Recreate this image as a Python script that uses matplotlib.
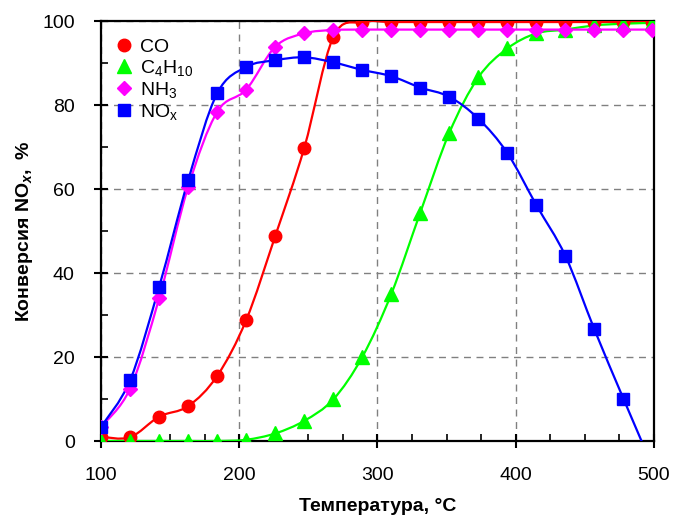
import numpy as np
import matplotlib
matplotlib.use("Agg")
from matplotlib import pyplot as plt
from matplotlib.path import Path
from matplotlib.patches import PathPatch
from matplotlib.lines import Line2D
from matplotlib.ticker import MultipleLocator

plt.rcParams['font.family'] = ['Liberation Sans', 'DejaVu Sans']
plt.rcParams['mathtext.fontset'] = 'custom'
plt.rcParams['mathtext.rm'] = 'Liberation Sans'
plt.rcParams['mathtext.it'] = 'Liberation Sans:italic:bold'
plt.rcParams['mathtext.bf'] = 'Liberation Sans:bold'
plt.rcParams['mathtext.default'] = 'regular'

temperature = [100, 121, 142, 163, 184, 205, 226, 247, 268, 289,
               310, 331, 352, 373, 394, 415, 436, 457, 478, 499]

co = [1.0, 0.9, 5.8, 8.3, 15.5, 28.8, 48.8, 69.8, 96.2, 99.8,
      99.8, 99.8, 99.8, 99.8, 99.8, 99.8, 99.8, 99.8, 99.8, 99.8]

c4h10 = [0.0, 0.0, 0.0, 0.0, 0.0, 0.3, 1.8, 4.8, 9.9, 20.0,
         35.0, 54.4, 73.4, 86.6, 93.5, 97.1, 98.0, 99.0, 99.4, 99.6]

nh3 = [3.4, 12.5, 34.0, 60.5, 78.4, 83.7, 93.9, 97.1, 97.9, 98.0,
       98.0, 98.0, 98.0, 98.0, 98.0, 98.0, 98.0, 98.0, 98.0, 98.0]

nox = [3.4, 14.5, 36.7, 62.1, 82.8, 89.1, 90.7, 91.4, 90.2, 88.4,
       86.9, 84.2, 82.0, 76.8, 68.6, 56.2, 44.1, 26.6, 10.1, -6.0]

labels = ['CO', 'C$_4$H$_{10}$', 'NH$_3$', 'NO$_x$']
colors = ['#ff0000', '#00ff00', '#ff00ff', '#0000ff']
markers = ['o', '^', 'D', 's']
msizes = [9, 9.5, 7.5, 9]


def smooth_path(x, y):
    # Catmull-Rom segments written as cubic Bezier pieces
    x = np.asarray(x, float)
    y = np.asarray(y, float)
    pts = np.column_stack([x, y])
    n = len(pts)
    verts = [pts[0]]
    codes = [Path.MOVETO]
    for i in range(n - 1):
        p0 = pts[max(i - 1, 0)]
        p1 = pts[i]
        p2 = pts[i + 1]
        p3 = pts[min(i + 2, n - 1)]
        c1 = p1 + (p2 - p0) / 6.0
        c2 = p2 - (p3 - p1) / 6.0
        verts += [c1, c2, p2]
        codes += [Path.CURVE4] * 3
    return Path(verts, codes)


fig = plt.figure(figsize=(6.74, 5.17), dpi=100)
ax = fig.add_axes([0.150, 0.147, 0.820, 0.812])

series = [co, c4h10, nh3, nox]
for vals, col, mk, ms in zip(series, colors, markers, msizes):
    ax.add_patch(PathPatch(smooth_path(temperature, vals), facecolor='none',
                           edgecolor=col, lw=1.6, zorder=3))
    ax.plot(temperature, vals, linestyle='none', marker=mk, ms=ms,
            color=col, mec=col, zorder=4)

ax.set_xlim(100, 500)
ax.set_ylim(0, 100)
ax.xaxis.set_major_locator(MultipleLocator(100))
ax.xaxis.set_minor_locator(MultipleLocator(25))
ax.yaxis.set_major_locator(MultipleLocator(20))
ax.yaxis.set_minor_locator(MultipleLocator(10))

ax.grid(True, which='major', color='#808080', linestyle=(0, (5, 4)), lw=1.0)
ax.set_axisbelow(True)

ax.tick_params(which='major', direction='inout', length=10, width=1.5,
               labelsize=14, pad=14)
ax.tick_params(which='minor', direction='in', length=5, width=1.2)
for sp in ax.spines.values():
    sp.set_linewidth(1.6)

ax.set_xlabel('Температура, °C', fontsize=14, fontweight='bold', labelpad=10)
ax.set_ylabel(r'$\mathbf{Конверсия\ NO}_{\mathit{x}}\mathbf{,\ \%}$',
              fontsize=14, labelpad=5)

handles = [Line2D([], [], linestyle='none', marker=mk, ms=ms, color=col)
           for mk, ms, col in zip(markers, msizes, colors)]
ax.legend(handles, labels, loc='upper left', frameon=False, fontsize=14,
          bbox_to_anchor=(15 / 553, 1 - 17 / 420), borderaxespad=0,
          borderpad=0, handlelength=0.8, handletextpad=0.45,
          labelspacing=0.1)

fig.savefig('out.png', dpi=100)
